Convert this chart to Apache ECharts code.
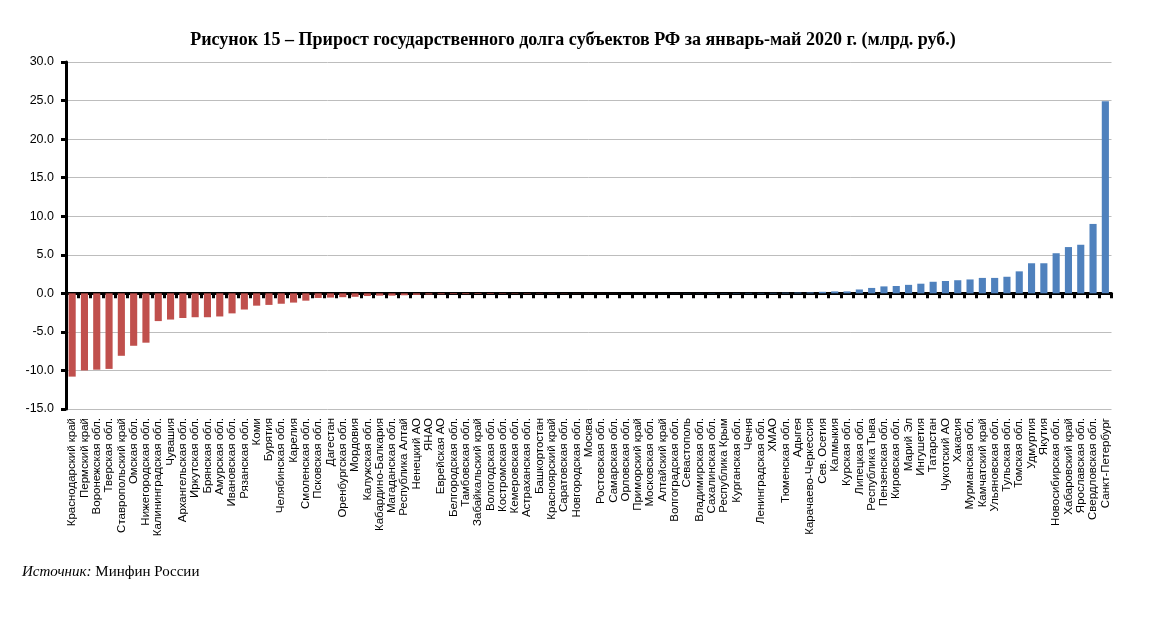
<!DOCTYPE html>
<html><head><meta charset="utf-8">
<script src="https://cdn.jsdelivr.net/npm/echarts@6/dist/echarts.min.js"></script>
<style>html,body{margin:0;padding:0;background:#fff}#c{width:1157px;height:619px}</style>
</head><body><div id="c"></div>
<script>
const titleText = "Рисунок 15 – Прирост государственного долга субъектов РФ за январь-май 2020 г. (млрд. руб.)";
const categories = ["Краснодарский край","Пермский край","Воронежская обл.","Тверская обл.","Ставропольский край","Омская обл.","Нижегородская обл.","Калининградская обл.","Чувашия","Архангельская обл.","Иркутская обл.","Брянская обл.","Амурская обл.","Ивановская обл.","Рязанская обл.","Коми","Бурятия","Челябинская обл.","Карелия","Смоленская обл.","Псковская обл.","Дагестан","Оренбургская обл.","Мордовия","Калужская обл.","Кабардино-Балкария","Магаданская обл.","Республика Алтай","Ненецкий АО","ЯНАО","Еврейская АО","Белгородская обл.","Тамбовская обл.","Забайкальский край","Вологодская обл.","Костромская обл.","Кемеровская обл.","Астраханская обл.","Башкортостан","Красноярский край","Саратовская обл.","Новгородская обл.","Москва","Ростовская обл.","Самарская обл.","Орловская обл.","Приморский край","Московская обл.","Алтайский край","Волгоградская обл.","Севастополь","Владимирская обл.","Сахалинская обл.","Республика Крым","Курганская обл.","Чечня","Ленинградская обл.","ХМАО","Тюменская обл.","Адыгея","Карачаево-Черкессия","Сев. Осетия","Калмыкия","Курская обл.","Липецкая обл.","Республика Тыва","Пензенская обл.","Кировская обл.","Марий Эл","Ингушетия","Татарстан","Чукотский АО","Хакасия","Мурманская обл.","Камчатский край","Ульяновская обл.","Тульская обл.","Томская обл.","Удмуртия","Якутия","Новосибирская обл.","Хабаровский край","Ярославская обл.","Свердловская обл.","Санкт-Петербург"];
const values = [-10.8,-10.0,-9.9,-9.8,-8.1,-6.8,-6.4,-3.6,-3.4,-3.2,-3.1,-3.1,-3.0,-2.6,-2.1,-1.6,-1.5,-1.35,-1.2,-0.95,-0.6,-0.55,-0.5,-0.45,-0.35,-0.3,-0.3,-0.25,-0.2,-0.15,-0.12,-0.1,-0.1,-0.08,-0.08,-0.06,-0.05,-0.05,-0.04,-0.03,-0.03,-0.02,-0.02,-0.01,-0.01,0,0,0,0.01,0.01,0.02,0.02,0.03,0.03,0.04,0.05,0.05,0.06,0.08,0.1,0.12,0.2,0.25,0.25,0.5,0.7,0.9,0.95,1.1,1.25,1.5,1.6,1.7,1.8,2.0,2.0,2.15,2.85,3.9,3.9,5.2,6.0,6.3,9.0,24.9];
const yTicks = {min:-15, max:30, interval:5};
const sourceLabel = "Источник:";
const sourceText = " Минфин России";

const chart = echarts.init(document.getElementById('c'), null, {renderer:'canvas'});
chart.setOption({
  backgroundColor:'#fff',
  animation:false,
  title:{text:titleText,left:568,top:26,textAlign:'center',
    textStyle:{fontFamily:'Liberation Serif',fontWeight:'bold',fontSize:18,color:'#000'}},
  grid:{left:66,right:45.5,top:62,bottom:210,containLabel:false},
  xAxis:[{
    type:'category',data:categories,position:'bottom',
    axisLine:{show:false,onZero:false},axisTick:{show:false},
    axisLabel:{interval:0,rotate:90,fontFamily:'Liberation Sans',fontSize:11.5,color:'#000',margin:9}
  },{
    type:'category',data:categories,position:'top',
    axisLine:{show:true,onZero:true,lineStyle:{color:'#000',width:3}},
    axisTick:{show:true,inside:true,interval:0,length:5,lineStyle:{color:'#000',width:3}},
    axisLabel:{show:false}
  }],
  yAxis:{type:'value',min:yTicks.min,max:yTicks.max,interval:yTicks.interval,
    axisLine:{show:true,lineStyle:{color:'#000',width:3}},
    axisTick:{show:true,length:5,lineStyle:{color:'#000',width:3}},
    axisLabel:{formatter:v=>v.toFixed(1),fontFamily:'Liberation Sans',fontSize:12.5,color:'#000',margin:12},
    splitLine:{lineStyle:{color:'#bdbdbd',width:1}}
  },
  series:[{type:'bar',xAxisIndex:0,barWidth:'58%',
    data:values.map(v=>({value:v,itemStyle:{color:v<0?'#c0504d':'#4f81bd'}}))}],
  graphic:[{type:'text',left:22,top:565,style:{
    text:'{i|'+sourceLabel+'}{n|'+sourceText+'}',
    rich:{i:{fontFamily:'Liberation Serif',fontStyle:'italic',fontSize:15,fill:'#000'},
          n:{fontFamily:'Liberation Serif',fontSize:15,fill:'#000'}}}}]
});
</script></body></html>
